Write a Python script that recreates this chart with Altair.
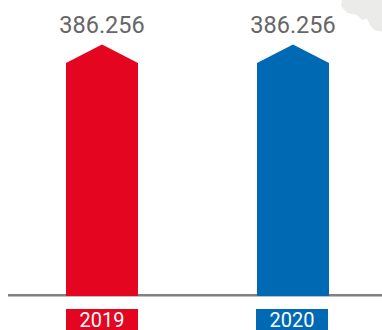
import altair as alt
import pandas as pd

years = ["2019", "2020"]
values = [386.256, 386.256]
value_labels = ["386.256", "386.256"]
colors = ["#e40520", "#0069b4"]

WIDTH, HEIGHT = 382, 330
BASE_Y = 296
BAR_W = 72
TOP_VALUE = 386.256 * BASE_Y / 233

df = pd.DataFrame({"year": years, "value": values, "label": value_labels})

x = alt.X("year:N", axis=None, scale=alt.Scale(type="point", padding=0, domain=years, range=[102, 293]))
x_tag = alt.X("year:N", axis=None, scale=alt.Scale(type="point", padding=0, domain=years, range=[102, 292]))
y = alt.Y("value:Q", axis=None, scale=alt.Scale(domain=[0, TOP_VALUE], range=[BASE_Y, 0]))
color = alt.Color("year:N", legend=None, scale=alt.Scale(domain=years, range=colors))

# Pale map fragment in the upper right corner
blob = alt.Chart(pd.DataFrame({"k": [0]})).mark_point(
    shape="M-0.95,-0.857 L-1,-0.57 L-0.714,-0.25 L-0.238,-0.143 L0,0.095 L0.238,0.048 L0.38,0.333 L0.571,0.571 L1,0.667 L1,-0.857 Z",
    filled=True, fill="#ebebea", stroke=None, opacity=1, size=1764,
).encode(x=alt.value(362), y=alt.value(18))

bars = alt.Chart(df).mark_bar(size=BAR_W).encode(x=x, y=y, color=color)

# House-shaped roof on each column
roofs = alt.Chart(df).mark_point(
    shape="M-1,0 L0,-0.515 L1,0 Z", filled=True, opacity=1, size=BAR_W * BAR_W, strokeWidth=0,
).encode(x=x, y=y, color=color)

# Ground line runs behind the columns
baseline = alt.Chart(pd.DataFrame({"zero": [0]})).mark_rule(color="#808080", strokeWidth=2.5, yOffset=-0.7).encode(
    x=alt.value(8), x2=alt.value(WIDTH), y=alt.Y("zero:Q", axis=None, scale=alt.Scale(domain=[0, TOP_VALUE], range=[BASE_Y, 0]))
)

value_text = alt.Chart(df).mark_text(
    font="Roboto", fontSize=23.5, color="#666666", baseline="alphabetic", align="center",
).encode(x=x, y=alt.value(33), text="label:N")

tags = alt.Chart(df).mark_bar(size=BAR_W).encode(
    x=x_tag, y=alt.value(309), y2=alt.value(330), color=color
)

tag_text = alt.Chart(df).mark_text(
    font="Roboto", fontSize=20, color="white", baseline="alphabetic", align="center",
).encode(x=x_tag, y=alt.value(327), text="year:N")

main = alt.layer(blob, baseline, bars, roofs, value_text)
lower = alt.layer(tags, tag_text)

chart = alt.layer(main, lower).resolve_scale(x="independent").properties(
    width=WIDTH, height=HEIGHT, padding=0, autosize=alt.AutoSizeParams(type="none"),
    background="white",
).configure_view(stroke=None)

chart.save("out.html", embed_options={"renderer": "svg", "actions": False})
